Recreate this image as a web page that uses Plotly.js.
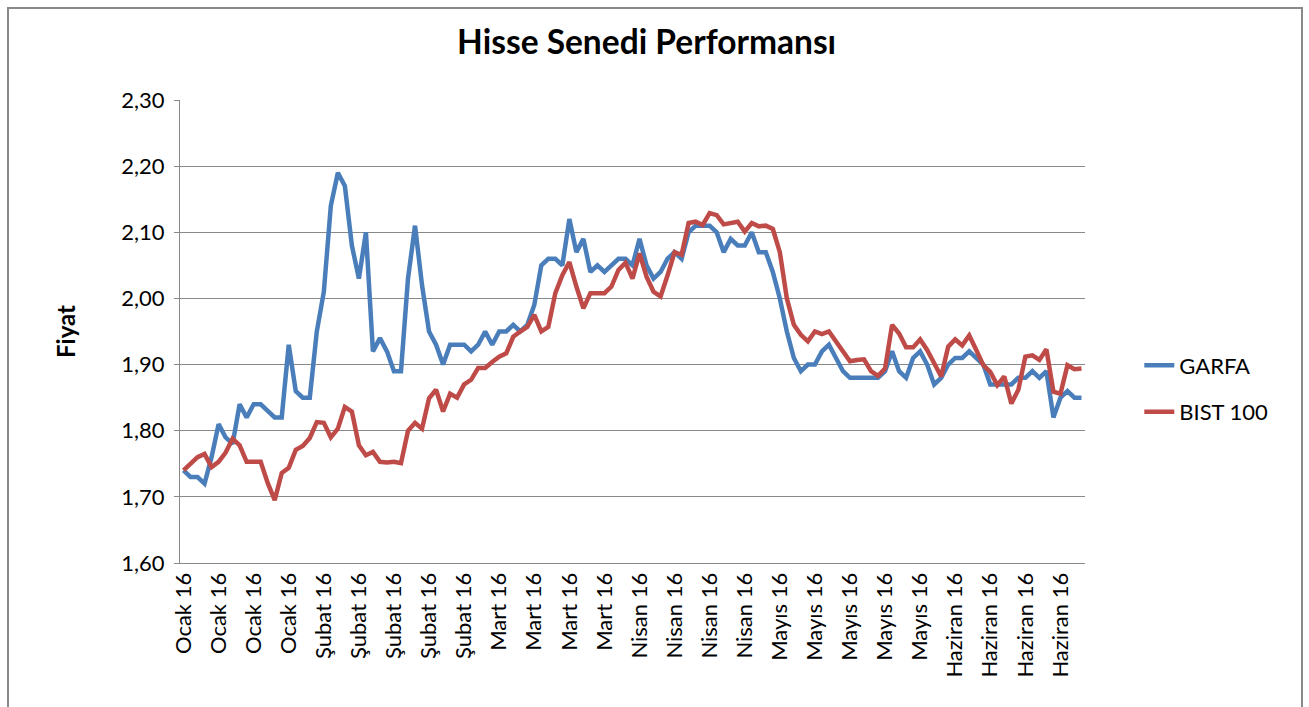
<!DOCTYPE html>
<html>
<head>
<meta charset="utf-8">
<script src="https://cdn.plot.ly/plotly-3.0.1.min.js"></script>
<style>
html,body{margin:0;padding:0;background:#fff;}
#chart{position:absolute;left:0;top:0;width:1309px;height:707px;}
#frame{position:absolute;left:7px;top:7px;width:1292px;height:730px;border:2px solid #898989;pointer-events:none;}
</style>
</head>
<body>
<div id="chart"></div>
<div id="frame"></div>
<script>
// Tick labels (one every 5 trading days)
const tickLabels = [
  "Ocak 16","Ocak 16","Ocak 16","Ocak 16",
  "Şubat 16","Şubat 16","Şubat 16","Şubat 16","Şubat 16",
  "Mart 16","Mart 16","Mart 16","Mart 16",
  "Nisan 16","Nisan 16","Nisan 16","Nisan 16",
  "Mayıs 16","Mayıs 16","Mayıs 16","Mayıs 16","Mayıs 16",
  "Haziran 16","Haziran 16","Haziran 16","Haziran 16"
];
const labelStep = 5;

// GARFA price
const garfa = [
  1.74,1.73,1.73,1.72,1.76,1.81,1.79,1.78,1.84,1.82,
  1.84,1.84,1.83,1.82,1.82,1.93,1.86,1.85,1.85,1.95,
  2.01,2.14,2.19,2.17,2.08,2.03,2.10,1.92,1.94,1.92,
  1.89,1.89,2.03,2.11,2.02,1.95,1.93,1.90,1.93,1.93,
  1.93,1.92,1.93,1.95,1.93,1.95,1.95,1.96,1.95,1.96,
  1.99,2.05,2.06,2.06,2.05,2.12,2.07,2.09,2.04,2.05,
  2.04,2.05,2.06,2.06,2.05,2.09,2.05,2.03,2.04,2.06,
  2.07,2.06,2.10,2.11,2.11,2.11,2.10,2.07,2.09,2.08,
  2.08,2.10,2.07,2.07,2.04,2.00,1.95,1.91,1.89,1.90,
  1.90,1.92,1.93,1.91,1.89,1.88,1.88,1.88,1.88,1.88,
  1.89,1.92,1.89,1.88,1.91,1.92,1.90,1.87,1.88,1.90,
  1.91,1.91,1.92,1.91,1.90,1.87,1.87,1.87,1.87,1.88,
  1.88,1.89,1.88,1.89,1.82,1.85,1.86,1.85,1.85
];

// BIST 100 (rescaled to GARFA's start)
const bist100 = [
  1.740,1.750,1.760,1.765,1.745,1.753,1.767,1.788,1.778,1.753,
  1.753,1.753,1.721,1.695,1.736,1.744,1.771,1.777,1.789,1.813,
  1.812,1.790,1.803,1.836,1.829,1.778,1.763,1.768,1.753,1.752,
  1.753,1.751,1.800,1.812,1.803,1.849,1.862,1.829,1.856,1.850,
  1.870,1.877,1.895,1.895,1.904,1.912,1.917,1.942,1.950,1.957,
  1.975,1.950,1.957,2.008,2.035,2.055,2.018,1.985,2.008,2.008,
  2.008,2.018,2.043,2.054,2.030,2.068,2.033,2.010,2.003,2.035,
  2.070,2.066,2.114,2.116,2.111,2.129,2.126,2.112,2.114,2.116,
  2.101,2.114,2.109,2.110,2.105,2.070,2.000,1.960,1.945,1.935,
  1.950,1.946,1.950,1.935,1.920,1.905,1.907,1.908,1.890,1.883,
  1.894,1.960,1.947,1.926,1.926,1.938,1.922,1.902,1.882,1.927,
  1.938,1.929,1.944,1.922,1.899,1.889,1.869,1.882,1.841,1.862,
  1.912,1.914,1.907,1.923,1.859,1.856,1.899,1.893,1.894
];

const xs = garfa.map((_, i) => i);
const tickVals = tickLabels.map((_, k) => k * labelStep);

const font = "Lato, 'Open Sans', sans-serif";

const traces = [
  {x: xs, y: garfa, name: "GARFA", type: "scatter", mode: "lines",
   line: {color: "#4A7EBB", width: 4.5}, legendgroup: "a"},
  {x: xs, y: bist100, name: "BIST 100", type: "scatter", mode: "lines",
   line: {color: "#BE4B48", width: 4.5}, legendgroup: "b"}
];

const layout = {
  width: 1309, height: 707,
  paper_bgcolor: "rgba(0,0,0,0)", plot_bgcolor: "#fff",
  margin: {l: 180, r: 224, t: 100, b: 144},
  separators: ",.",
  font: {family: font, color: "#000", size: 22},
  title: {text: "<b>Hisse Senedi Performansı</b>", font: {family: font, size: 33.5, color: "#000"},
          x: 0.494, xref: "container", xanchor: "center", y: 0.94, yref: "container", yanchor: "middle"},
  xaxis: {
    range: [-0.5, garfa.length - 0.5],
    tickmode: "array", tickvals: tickVals, ticktext: tickLabels,
    tickangle: -90, tickfont: {size: 22, family: font, color: "#000"},
    showgrid: false, zeroline: false,
    showline: true, linecolor: "#898989", linewidth: 1,
    ticks: "", fixedrange: true
  },
  yaxis: {
    range: [1.6, 2.3], dtick: 0.1, tick0: 1.6, tickformat: ".2f",
    tickfont: {size: 22, family: font, color: "#000"},
    showgrid: true, gridcolor: "#898989", gridwidth: 1,
    zeroline: false, showline: true, linecolor: "#898989", linewidth: 1,
    ticks: "outside", ticklen: 5, tickcolor: "#898989", ticklabelstandoff: 5,
    title: {text: "<b>Fiyat</b>", font: {size: 24, family: font, color: "#000"}, standoff: 38},
    fixedrange: true
  },
  legend: {x: 1.06, xanchor: "left", y: 0.376, yanchor: "middle",
           font: {size: 22, family: font, color: "#000"}, tracegroupgap: 15,
           bgcolor: "rgba(0,0,0,0)"},
  showlegend: true
};

Plotly.newPlot("chart", traces, layout, {displayModeBar: false, staticPlot: true});
</script>
</body>
</html>
